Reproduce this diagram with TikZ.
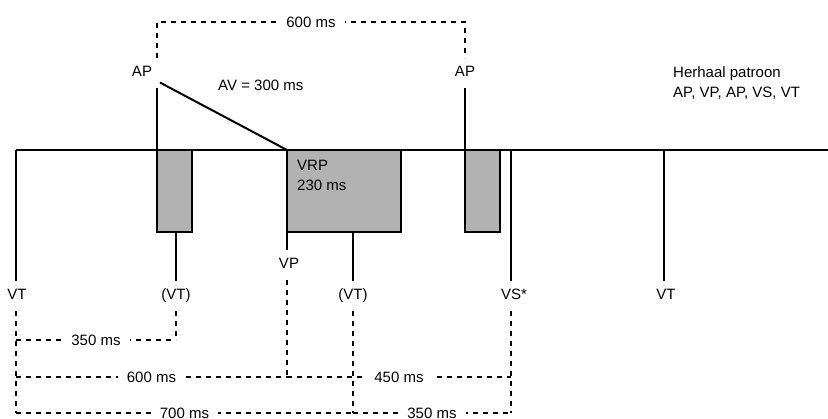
\documentclass[tikz,border=0pt]{standalone}
\usepackage{fontspec}
\setmainfont{Liberation Sans}
\usetikzlibrary{positioning}

\begin{document}
\begin{tikzpicture}[
      x=1pt, y=-1pt,
      wire/.style={line width=2pt},
      meas/.style={line width=1.1pt, dash pattern=on 5pt off 5pt},
      refr/.style={draw, line width=2.5pt, fill=black!30, inner sep=0pt,
        outer sep=0pt, anchor=north west},
      tag/.style={font=\fontsize{15}{18}\selectfont, text height=11pt,
        text depth=3pt, inner sep=1pt, outer sep=7pt},
      gaptag/.style={font=\fontsize{15}{18}\selectfont, fill=white,
        inner xsep=9pt, inner ysep=1pt},
      note/.style={font=\fontsize{15}{20}\selectfont, align=left,
        inner sep=0pt, anchor=north west}
    ]
    \useasboundingbox (0,0) rectangle (828,419);

    \coordinate (tVT0) at (16,150);
    \coordinate (tAP1) at (157,150);
    \coordinate (tVP) at (287,150);
    \coordinate (tAP2) at (465,150);
    \coordinate (tVS) at (511,150);
    \coordinate (tVT3) at (664,150);
    \coordinate (tEnd) at (828,150);

    \coordinate (lvTop) at (0,22);
    \coordinate (lvA) at (0,340);
    \coordinate (lvB) at (0,377);
    \coordinate (lvC) at (0,413);

    \node[tag] (ap1) at (142,73) {AP};
    \node[tag] (ap2) at (465,73) {AP};
    \node[tag] (vt0) at (17,296) {VT};
    \node[tag] (vt1) at (176,296) {(VT)};
    \node[tag] (vp) at (289,265) {VP};
    \node[tag] (vt2) at (353,296) {(VT)};
    \node[tag] (vs) at (514,296) {VS*};
    \node[tag] (vt3) at (666,296) {VT};

    \draw[wire] (tVT0) -- (tEnd);
    \node[refr, minimum width=35pt, minimum height=82pt] (arp1) at (tAP1) {};
    \node[refr, minimum width=114pt, minimum height=82pt] (vrp) at (tVP) {};
    \node[refr, minimum width=35pt, minimum height=82pt] (arp2) at (tAP2) {};

    \draw[wire] (tVT0) -- (tVT0 |- vt0.north);
    \draw[wire] (tAP1 |- ap1.south) -- (tAP1);
    \draw[wire] (tAP2 |- ap2.south) -- (tAP2);
    \draw[wire] (ap1) -- (tVP);
    \draw[wire] (vt1 |- arp1.south) -- (vt1.north);
    \draw[wire] (tVP |- vrp.south) -- (tVP |- vp.north);
    \draw[wire] (vt2 |- vrp.south) -- (vt2.north);
    \draw[wire] (tVS) -- (tVS |- vs.north);
    \draw[wire] (tVT3) -- (tVT3 |- vt3.north);

    \draw[meas] (tVT0 |- vt0.south) -- (tVT0 |- lvC);
    \draw[meas] (vt1.south) -- (vt1 |- lvA);
    \draw[meas] (tVP |- vp.south) -- (tVP |- lvB);
    \draw[meas] (vt2.south) -- (vt2 |- lvC);
    \draw[meas] (tVS |- vs.south) -- (tVS |- lvC);

    \draw[meas] (tAP1 |- ap1.north) -- (tAP1 |- lvTop)
      -- node[gaptag] {600 ms} (tAP2 |- lvTop) -- (tAP2 |- ap2.north);
    \draw[meas] (tVT0 |- lvA) -- node[gaptag] {350 ms} (vt1 |- lvA);
    \draw[meas] (tVT0 |- lvB) -- node[gaptag] {600 ms} (tVP |- lvB);
    \draw[meas] (tVP |- lvB) -- node[gaptag] {450 ms} (tVS |- lvB);
    \draw[meas] (tVT0 |- lvC) -- node[gaptag] {700 ms} (vt2 |- lvC);
    \draw[meas] (vt2 |- lvC) -- node[gaptag] {350 ms} (tVS |- lvC);

    \node[note] (avtxt) at (218,79.5) {AV = 300 ms};
    \node[note] (vrptxt) at ([xshift=10pt,yshift=-9.5pt]vrp.north west)
      {VRP\\230 ms};
    \node[note] (reptxt) at (673,66) {Herhaal patroon\\AP, VP, AP, VS, VT};
  \end{tikzpicture}
\end{document}
